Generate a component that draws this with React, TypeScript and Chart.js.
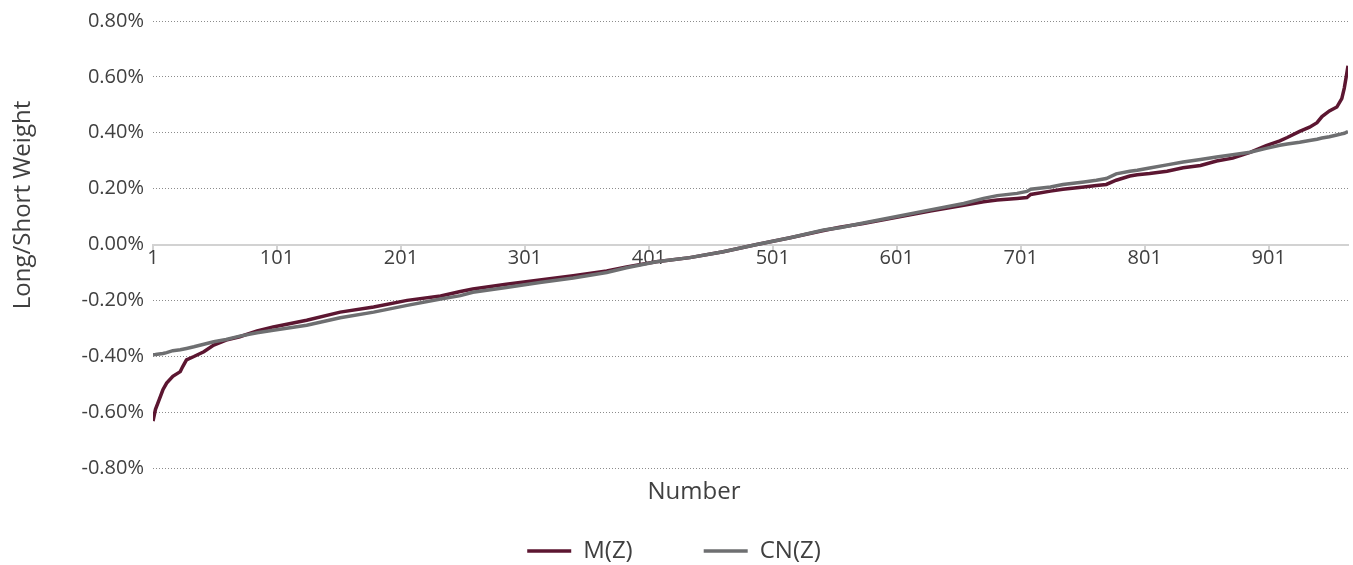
import React, { useEffect, useRef } from "react";
import { Chart, registerables } from "chart.js";

Chart.register(...registerables);

const sampleIndex = [
  1, 3, 6, 9, 12, 17, 23, 25, 28, 34, 42, 50, 60, 71, 85, 98, 125, 152, 179, 206,
  233, 249, 259, 286, 313, 340, 367, 383, 407, 434, 461, 488, 515, 542, 555, 574,
  601, 628, 655, 671, 682, 698, 706, 709, 725, 735, 752, 762, 770, 778, 789, 795,
  805, 819, 832, 846, 859, 872, 886, 899, 910, 916, 926, 934, 940, 944, 950, 956,
  960, 962, 964, 965,
];

// Long/short weight in percent
const mzValues = [
  -0.632, -0.59, -0.555, -0.52, -0.496, -0.472, -0.455, -0.437, -0.413, -0.401,
  -0.384, -0.36, -0.342, -0.33, -0.309, -0.295, -0.271, -0.242, -0.224, -0.2,
  -0.184, -0.168, -0.159, -0.142, -0.127, -0.112, -0.095, -0.08, -0.062, -0.047,
  -0.026, 0.0, 0.024, 0.05, 0.062, 0.075, 0.097, 0.12, 0.14, 0.153, 0.159, 0.165,
  0.168, 0.179, 0.191, 0.198, 0.206, 0.211, 0.215, 0.23, 0.245, 0.25, 0.254, 0.262,
  0.275, 0.283, 0.299, 0.309, 0.33, 0.354, 0.371, 0.383, 0.405, 0.42, 0.436, 0.458,
  0.478, 0.492, 0.522, 0.56, 0.612, 0.64,
];

const cnzValues = [
  -0.395, -0.394, -0.392, -0.39, -0.387, -0.38, -0.377, -0.375, -0.372, -0.366,
  -0.357, -0.348, -0.34, -0.328, -0.316, -0.307, -0.289, -0.262, -0.242, -0.218,
  -0.195, -0.183, -0.171, -0.154, -0.136, -0.12, -0.1, -0.083, -0.062, -0.047,
  -0.026, 0.0, 0.024, 0.052, 0.06, 0.077, 0.1, 0.124, 0.147, 0.165, 0.175, 0.183,
  0.19, 0.198, 0.206, 0.215, 0.224, 0.23, 0.236, 0.253, 0.262, 0.266, 0.274, 0.285,
  0.295, 0.304, 0.313, 0.321, 0.33, 0.344, 0.355, 0.36, 0.366, 0.372, 0.377, 0.381,
  0.386, 0.392, 0.396, 0.398, 0.402, 0.404,
];

const seriesNames = ["M(Z)", "CN(Z)"];
const xTickValues = [1, 101, 201, 301, 401, 501, 601, 701, 801, 901];
const yTickValues = [-0.8, -0.6, -0.4, -0.2, 0, 0.2, 0.4, 0.6, 0.8];
const xMin = 1;
const xMax = 965;
const xTitle = "Number";
const yTitle = "Long/Short Weight";

const FONT = "'Open Sans', 'Noto Sans', sans-serif";
const TEXT = "#404040";
const MAROON = "#5c1631";
const GRAY = "#6e6f71";

export default function App() {
  const ref = useRef<HTMLCanvasElement | null>(null);

  useEffect(() => {
    document.body.style.margin = "0";
    const canvas = ref.current;
    if (!canvas) return;

    const axisTitlesPlugin = {
      id: "axisTitles",
      afterDraw(chart: any) {
        const c = chart.ctx;
        c.save();
        c.fillStyle = TEXT;
        c.textAlign = "center";
        c.textBaseline = "middle";
        c.font = `24px ${FONT}`;
        c.fillText(xTitle, 694, 492);
        c.translate(23, 205);
        c.rotate(-Math.PI / 2);
        c.fillText(yTitle, 0, 0);
        c.restore();
      },
    };

    const toPoints = (vals: number[]) => sampleIndex.map((x, i) => ({ x, y: vals[i] }));

    const chart = new Chart(canvas, {
      type: "line",
      data: {
        datasets: [
          {
            label: seriesNames[0],
            data: toPoints(mzValues),
            borderColor: MAROON,
            backgroundColor: MAROON,
            borderWidth: 3.5,
            pointRadius: 0,
            tension: 0,
            order: 1,
          },
          {
            label: seriesNames[1],
            data: toPoints(cnzValues),
            borderColor: GRAY,
            backgroundColor: GRAY,
            borderWidth: 3.5,
            pointRadius: 0,
            tension: 0,
            order: 0,
          },
        ],
      },
      options: {
        responsive: false,
        animation: false,
        layout: { padding: { top: 17, right: 5, left: 0, bottom: -8 } },
        plugins: {
          tooltip: { enabled: false },
          legend: {
            position: "bottom",
            labels: {
              usePointStyle: true,
              pointStyle: "line",
              pointStyleWidth: 44,
              padding: 71,
              font: { family: FONT, size: 24 },
              color: TEXT,
              sort: (a: any, b: any) => a.datasetIndex - b.datasetIndex,
            },
          },
        },
        scales: {
          x: {
            type: "linear",
            position: { y: 0 } as any,
            min: xMin,
            max: xMax,
            afterBuildTicks: (s: any) => {
              s.ticks = xTickValues.map((v) => ({ value: v }));
            },
            ticks: {
              callback: (v: any) => String(v),
              font: { family: FONT, size: 20 },
              color: TEXT,
              padding: -4,
              maxRotation: 0,
              autoSkip: false,
            },
            grid: {
              drawOnChartArea: false,
              drawTicks: true,
              tickLength: 6,
              color: "#d2d2d2",
              lineWidth: 2,
            },
            border: { display: true, color: "#d2d2d2", width: 2 },
          },
          y: {
            min: -0.8,
            max: 0.8,
            afterBuildTicks: (s: any) => {
              s.ticks = yTickValues.map((v) => ({ value: v }));
            },
            afterFit: (s: any) => {
              s.width = 153;
            },
            ticks: {
              callback: (v: any) => Number(v).toFixed(2) + "%",
              font: { family: FONT, size: 20 },
              color: TEXT,
              padding: 9,
            },
            grid: { color: "#8c8c8c", lineWidth: 1, drawTicks: false },
            border: { display: false, dash: [1, 2] },
          },
        },
      },
      plugins: [axisTitlesPlugin],
    });

    return () => chart.destroy();
  }, []);

  return <canvas ref={ref} width={1353} height={565} style={{ display: "block" }} />;
}
